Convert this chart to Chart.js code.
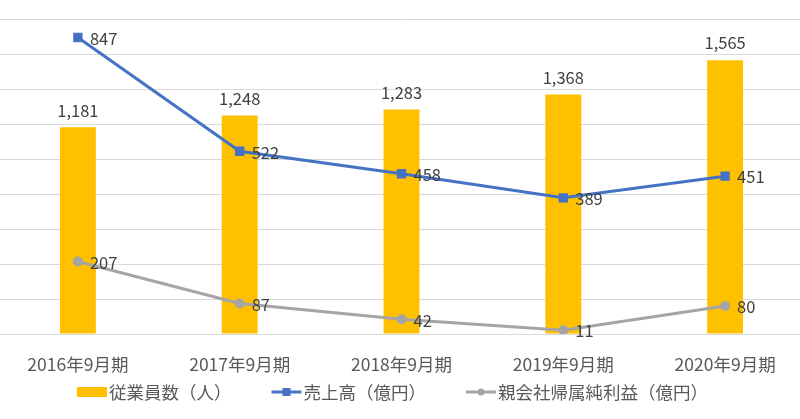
<!DOCTYPE html>
<html>
<head>
<meta charset="utf-8">
<script src="https://cdn.jsdelivr.net/npm/chart.js@4"></script>
<style>
  html, body { margin: 0; padding: 0; background: #fff; overflow: hidden; }
  #wrap { position: absolute; left: -3px; top: 0; width: 809px; height: 419px; }
</style>
</head>
<body>
<div id="wrap"><canvas id="chart"></canvas></div>
<script>
// Data
const periods = ['2016年9月期', '2017年9月期', '2018年9月期', '2019年9月期', '2020年9月期'];
const employees = [1181, 1248, 1283, 1368, 1565];
const sales = [847, 522, 458, 389, 451];
const netIncome = [207, 87, 42, 11, 80];
const seriesNames = ['従業員数（人）', '売上高（億円）', '親会社帰属純利益（億円）'];

const FONT = '"Noto Sans CJK JP", "Noto Sans", sans-serif';
const YELLOW = '#FFC000';
const BLUE = '#4472C4';
const GRAY = '#A5A5A5';

// draws value labels next to each mark
const valueLabels = {
    id: 'valueLabels',
    afterDatasetsDraw(chart) {
        const c = chart.ctx;
        c.save();
        c.font = '16.5px ' + FONT;
        c.fillStyle = '#404040';
        chart.data.datasets.forEach((ds, i) => {
            const meta = chart.getDatasetMeta(i);
            meta.data.forEach((el, j) => {
                const txt = ds.data[j].toLocaleString('en-US');
                if (ds.type === 'bar') {
                    c.textAlign = 'center';
                    c.textBaseline = 'middle';
                    c.fillText(txt, el.x, el.y - 17);
                } else {
                    c.textAlign = 'left';
                    c.textBaseline = 'middle';
                    c.fillText(txt, el.x + 12, el.y + 1);
                }
            });
        });
        c.restore();
    }
};

// custom legend: box for bars, line with marker for lines
const bottomLegend = {
    id: 'bottomLegend',
    afterDraw(chart) {
        const c = chart.ctx;
        c.save();
        c.font = '17.5px ' + FONT;
        const symW = 30, gap = 2, itemGap = 40;
        const widths = seriesNames.map(n => symW + gap + c.measureText(n).width);
        const total = widths.reduce((a, b) => a + b, 0) + itemGap * (widths.length - 1);
        let x = (chart.width - total) / 2 - 9;
        const y = 392;
        seriesNames.forEach((name, i) => {
            if (i === 0) {
                c.fillStyle = YELLOW;
                c.fillRect(x, y - 5, symW, 10);
            } else {
                const col = i === 1 ? BLUE : GRAY;
                c.strokeStyle = col;
                c.lineWidth = 3;
                c.beginPath();
                c.moveTo(x, y);
                c.lineTo(x + symW, y);
                c.stroke();
                c.fillStyle = col;
                if (i === 1) {
                    c.fillRect(x + symW / 2 - 4, y - 4, 8, 8);
                } else {
                    c.beginPath();
                    c.arc(x + symW / 2, y, 3.5, 0, Math.PI * 2);
                    c.fill();
                }
            }
            c.fillStyle = '#595959';
            c.textAlign = 'left';
            c.textBaseline = 'middle';
            c.fillText(name, x + symW + gap, y);
            x += widths[i] + itemGap;
        });
        c.restore();
    }
};

const ctx = document.getElementById('chart').getContext('2d');
new Chart(ctx, {
    data: {
        labels: periods,
        datasets: [
            {
                type: 'line',
                label: seriesNames[1],
                data: sales,
                yAxisID: 'y1',
                borderColor: BLUE,
                backgroundColor: BLUE,
                borderWidth: 3,
                pointStyle: 'rect',
                pointRadius: 4.5,
                tension: 0,
                order: 1
            },
            {
                type: 'line',
                label: seriesNames[2],
                data: netIncome,
                yAxisID: 'y1',
                borderColor: GRAY,
                backgroundColor: GRAY,
                borderWidth: 3,
                pointStyle: 'circle',
                pointRadius: 3.5,
                tension: 0,
                order: 2
            },
            {
                type: 'bar',
                label: seriesNames[0],
                data: employees,
                yAxisID: 'y',
                backgroundColor: YELLOW,
                categoryPercentage: 1,
                barPercentage: 0.222,
                order: 3
            }
        ]
    },
    options: {
        responsive: true,
        maintainAspectRatio: false,
        animation: false,
        layout: { autoPadding: false, padding: { top: 19, left: 0, right: 0, bottom: 0 } },
        plugins: {
            legend: { display: false },
            tooltip: { enabled: false }
        },
        scales: {
            x: {
                offset: true,
                grid: { display: false },
                border: { display: false },
                ticks: {
                    color: '#595959',
                    font: { family: FONT, size: 17.5 },
                    padding: 12,
                    maxRotation: 0
                },
                afterFit: (s) => { s.height = 85; }
            },
            y: {
                position: 'left',
                min: 0,
                max: 1800,
                ticks: { display: false, stepSize: 200 },
                grid: { color: '#D9D9D9', lineWidth: 1, drawTicks: false },
                border: { display: false },
                afterFit: (s) => { s.width = 0; }
            },
            y1: {
                position: 'right',
                display: false,
                min: 0,
                max: 900
            }
        }
    },
    plugins: [valueLabels, bottomLegend]
});
</script>
</body>
</html>
